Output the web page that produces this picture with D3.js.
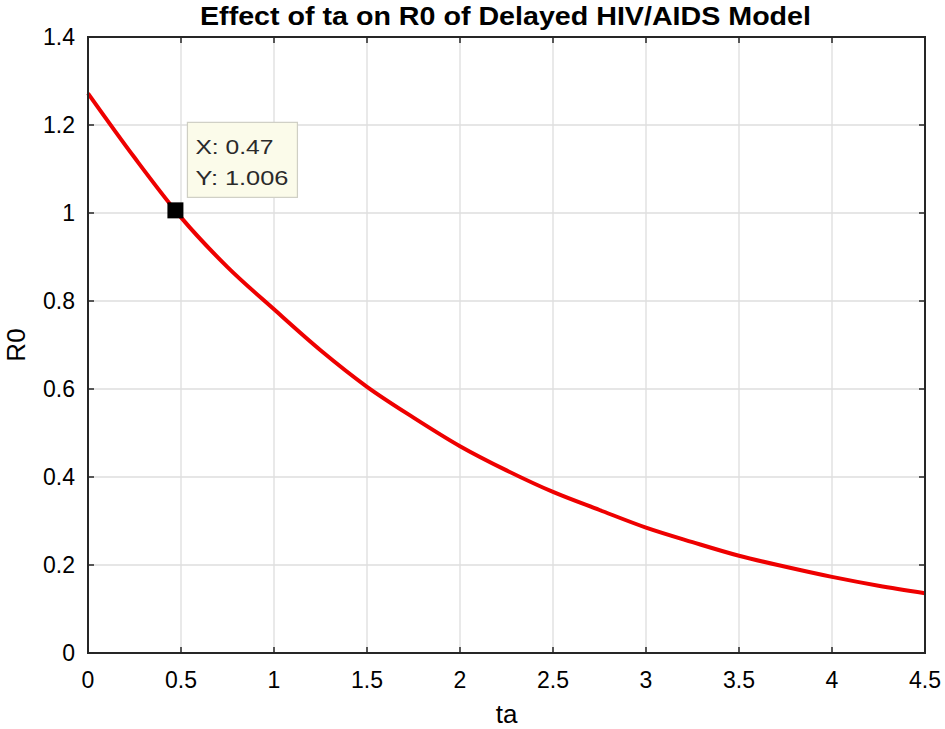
<!DOCTYPE html>
<html>
<head>
<meta charset="utf-8">
<script src="https://cdn.jsdelivr.net/npm/d3@7"></script>
<style>
  html, body { margin: 0; padding: 0; background: #ffffff; }
  svg { display: block; }
  text { font-family: "Liberation Sans", Arial, Helvetica, sans-serif; }
</style>
</head>
<body>
<svg id="chart" width="945" height="729"></svg>
<script>
// ---- data ----
const taValues = [0, 0.25, 0.5, 0.75, 1.0, 1.25, 1.5, 1.75, 2.0, 2.25, 2.5, 2.75, 3.0, 3.25, 3.5, 3.75, 4.0, 4.25, 4.5];
const r0Values = [1.272, 1.126, 0.99, 0.877, 0.781, 0.688, 0.605, 0.535, 0.47, 0.415, 0.366, 0.325, 0.285, 0.252, 0.221, 0.196, 0.173, 0.153, 0.136];
const xTicks = [0, 0.5, 1, 1.5, 2, 2.5, 3, 3.5, 4, 4.5];
const yTicks = [0, 0.2, 0.4, 0.6, 0.8, 1, 1.2, 1.4];
const xDomain = [0, 4.5];
const yDomain = [0, 1.4];
const datatip = { x: 0.47, y: 1.006 };
const titleText = "Effect of ta on R0 of Delayed HIV/AIDS Model";
const xLabel = "ta";
const yLabel = "R0";

// ---- layout ----
const margin = { left: 88, top: 37, right: 925, bottom: 653 };
const svg = d3.select("#chart");

const x = d3.scaleLinear().domain(xDomain).range([margin.left, margin.right]);
const y = d3.scaleLinear().domain(yDomain).range([margin.bottom, margin.top]);

// grid
const grid = svg.append("g");
grid.selectAll("line.vx").data(xTicks.slice(1, -1)).enter().append("line")
  .attr("x1", d => x(d)).attr("x2", d => x(d))
  .attr("y1", margin.top).attr("y2", margin.bottom)
  .attr("stroke", "#dedede").attr("stroke-width", 1.3);
grid.selectAll("line.hy").data(yTicks.slice(1, -1)).enter().append("line")
  .attr("x1", margin.left).attr("x2", margin.right)
  .attr("y1", d => y(d)).attr("y2", d => y(d))
  .attr("stroke", "#dedede").attr("stroke-width", 1.3);

// curve
const line = d3.line()
  .x((d, i) => x(taValues[i]))
  .y(d => y(d))
  .curve(d3.curveMonotoneX);
svg.append("path")
  .datum(r0Values)
  .attr("d", line)
  .attr("fill", "none")
  .attr("stroke", "#ee0000")
  .attr("stroke-width", 4)
  .attr("stroke-linejoin", "round");

// axes (box with inward ticks)
const axisColor = "#262626";
const tickLen = 6;
const axG = svg.append("g").attr("stroke", axisColor);
axG.append("rect")
  .attr("x", margin.left).attr("y", margin.top)
  .attr("width", margin.right - margin.left)
  .attr("height", margin.bottom - margin.top)
  .attr("fill", "none").attr("stroke-width", 2);
xTicks.forEach(t => {
  axG.append("line").attr("x1", x(t)).attr("x2", x(t))
    .attr("y1", margin.bottom).attr("y2", margin.bottom - tickLen).attr("stroke-width", 1.5);
  axG.append("line").attr("x1", x(t)).attr("x2", x(t))
    .attr("y1", margin.top).attr("y2", margin.top + tickLen).attr("stroke-width", 1.5);
});
yTicks.forEach(t => {
  axG.append("line").attr("x1", margin.left).attr("x2", margin.left + tickLen)
    .attr("y1", y(t)).attr("y2", y(t)).attr("stroke-width", 1.5);
  axG.append("line").attr("x1", margin.right).attr("x2", margin.right - tickLen)
    .attr("y1", y(t)).attr("y2", y(t)).attr("stroke-width", 1.5);
});

// tick labels
const fmt = d => String(d);
svg.append("g").selectAll("text").data(xTicks).enter().append("text")
  .attr("x", d => x(d)).attr("y", 688)
  .attr("text-anchor", "middle")
  .attr("font-size", 23).attr("fill", "#000")
  .text(fmt);
svg.append("g").selectAll("text").data(yTicks).enter().append("text")
  .attr("x", 75).attr("y", d => y(d))
  .attr("dy", "0.36em")
  .attr("text-anchor", "end")
  .attr("font-size", 23).attr("fill", "#000")
  .text(fmt);

// axis labels
svg.append("text")
  .attr("x", (margin.left + margin.right) / 2).attr("y", 723)
  .attr("text-anchor", "middle").attr("font-size", 26).attr("fill", "#000")
  .text(xLabel);
svg.append("text")
  .attr("transform", `translate(25, ${(margin.top + margin.bottom) / 2}) rotate(-90)`)
  .attr("text-anchor", "middle").attr("font-size", 26).attr("fill", "#000")
  .text(yLabel);

// title
svg.append("text")
  .attr("x", 505.5).attr("y", 25)
  .attr("text-anchor", "middle").attr("font-size", 26).attr("font-weight", "bold")
  .attr("textLength", 611).attr("lengthAdjust", "spacingAndGlyphs")
  .attr("fill", "#000")
  .text(titleText);

// datatip marker
const mx = x(datatip.x), my = y(datatip.y);
svg.append("rect")
  .attr("x", mx - 8).attr("y", my - 8).attr("width", 16).attr("height", 16)
  .attr("fill", "#000");

// datatip box
const boxG = svg.append("g");
boxG.append("rect")
  .attr("x", mx + 12).attr("y", my - 88).attr("width", 110).attr("height", 75)
  .attr("fill", "#fbfbea").attr("stroke", "#cfcfc4").attr("stroke-width", 1.2);
boxG.append("text")
  .attr("x", mx + 20).attr("y", my - 56)
  .attr("font-size", 21).attr("fill", "#2a2a2a")
  .attr("textLength", 78).attr("lengthAdjust", "spacingAndGlyphs")
  .text("X: " + datatip.x);
boxG.append("text")
  .attr("x", mx + 20).attr("y", my - 25)
  .attr("font-size", 21).attr("fill", "#2a2a2a")
  .attr("textLength", 93).attr("lengthAdjust", "spacingAndGlyphs")
  .text("Y: " + datatip.y.toFixed(3));
</script>
</body>
</html>
